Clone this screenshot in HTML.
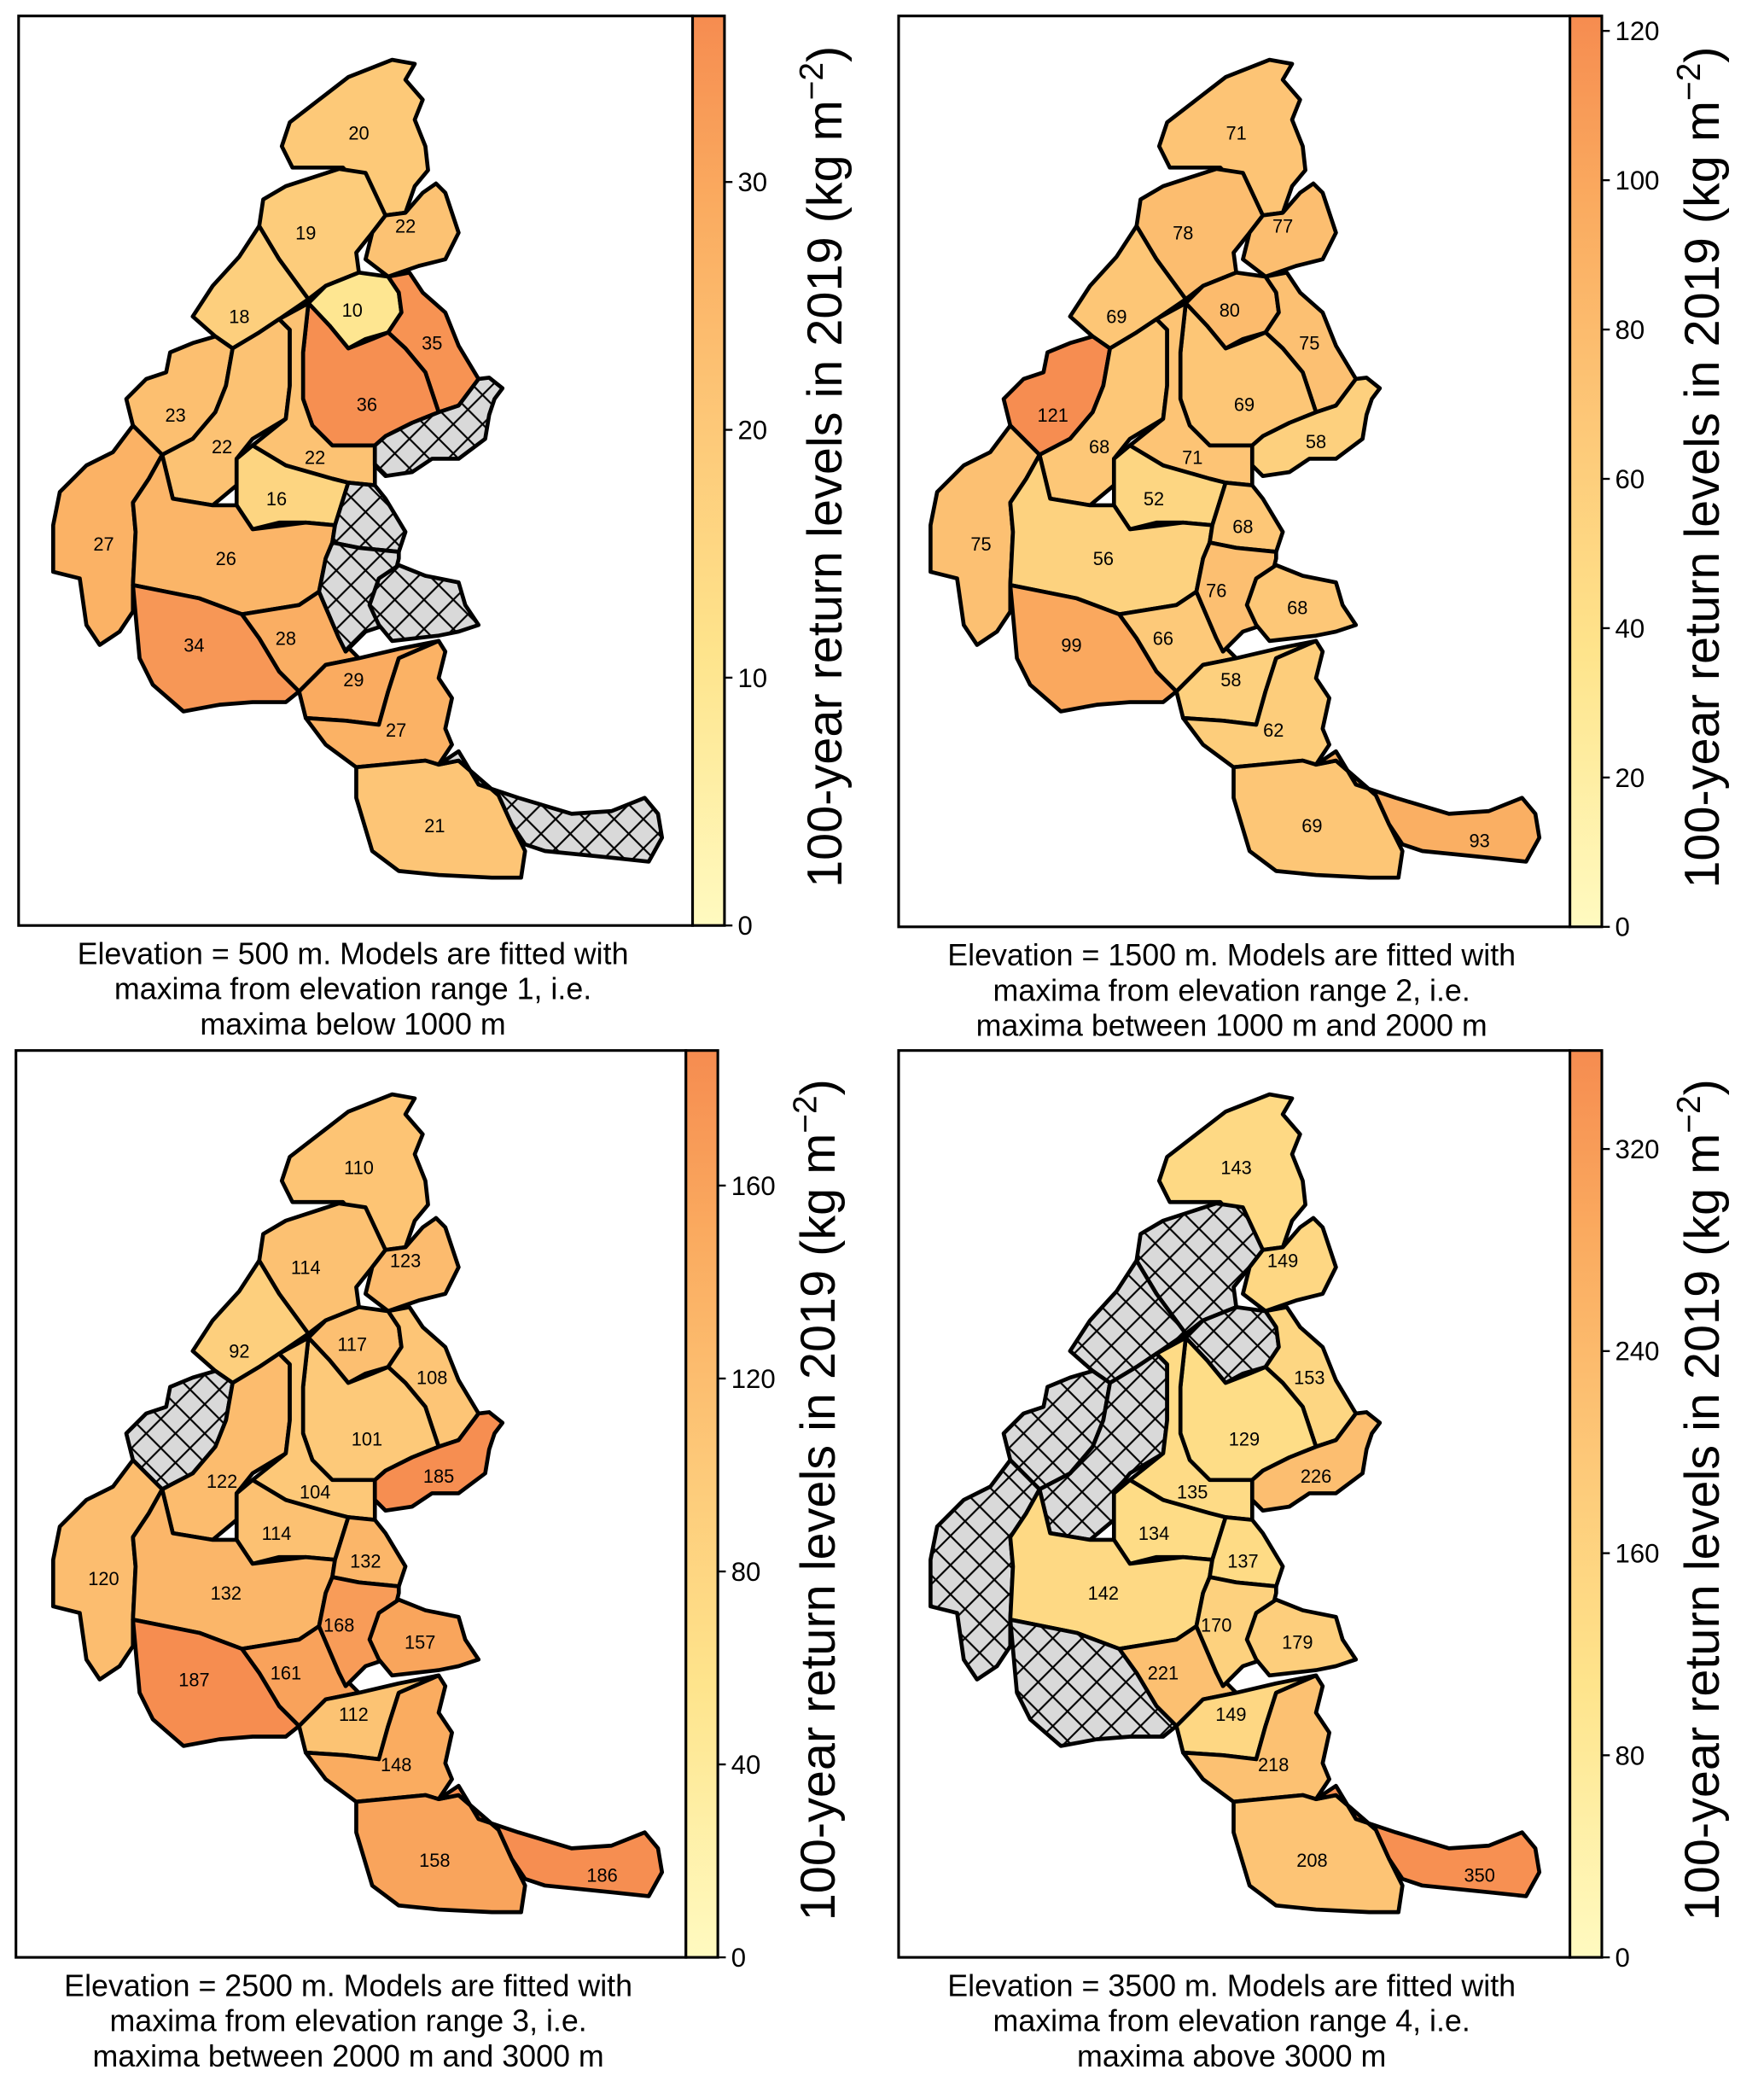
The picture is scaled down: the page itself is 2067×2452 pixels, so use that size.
<!DOCTYPE html>
<html><head><meta charset="utf-8">
<style>
html,body{margin:0;padding:0;background:#fff;}
svg{display:block;}
text{font-family:"Liberation Sans",sans-serif;}
</style></head>
<body>
<svg id="fig" xmlns="http://www.w3.org/2000/svg" width="2067" height="2452" viewBox="0 0 1327 1574" preserveAspectRatio="none">
<defs>
<pattern id="hatch" patternUnits="userSpaceOnUse" width="22" height="22">
<rect width="22" height="22" fill="#d9d9d9"/>
<path d="M0,0 L22,22 M22,0 L0,22" stroke="#000" stroke-width="1.4"/>
</pattern>
<linearGradient id="cbgrad" x1="0" y1="1" x2="0" y2="0">
<stop offset="0" stop-color="#fffac0"/>
<stop offset="0.3" stop-color="#fee48c"/>
<stop offset="0.55" stop-color="#fdc878"/>
<stop offset="0.8" stop-color="#faaa5f"/>
<stop offset="1" stop-color="#f68c50"/>
</linearGradient>
</defs>
</svg>
<script>
const regionIds = ["A","B","C","D","E","R36","F","G7","G8","G9","R10","R11","R12","R13","R14","R15","R16","R17","H1","H2t","H2b","H3","H4"];
const valsTL = [20,19,22,10,35,36,18,23,22,22,16,27,26,34,28,29,27,21,null,null,null,null,null];
const valsTR = [71,78,77,80,75,69,69,121,68,71,52,75,56,99,66,58,62,69,58,68,76,68,93];
const valsBL = [110,114,123,117,108,101,92,null,122,104,114,120,132,187,161,112,148,158,185,132,168,157,186];
const valsBR = [143,null,149,null,153,129,null,null,null,135,134,null,142,null,221,149,218,208,226,137,170,179,350];
const vmaxes = [36.7,122,188,359];
const ticksTL = [0,10,20,30];
const ticksTR = [0,20,40,60,80,100,120];
const ticksBL = [0,40,80,120,160];
const ticksBR = [0,80,160,240,320];
const captions = [
 ["Elevation = 500 m. Models are fitted with","maxima from elevation range 1, i.e.","maxima below 1000 m"],
 ["Elevation = 1500 m. Models are fitted with","maxima from elevation range 2, i.e.","maxima between 1000 m and 2000 m"],
 ["Elevation = 2500 m. Models are fitted with","maxima from elevation range 3, i.e.","maxima between 2000 m and 3000 m"],
 ["Elevation = 3500 m. Models are fitted with","maxima from elevation range 4, i.e.","maxima above 3000 m"]];

const geom = {
A:[[218,92],[240,75],[262,58],[295,45],[312,48],[305,60],[318,75],[312,90],[320,110],[322,128],[312,140],[305,160],[290,162],[270,140],[258,126],[220,126],[212,110]],
B:[[198,150],[215,140],[255,127],[275,130],[290,162],[280,175],[268,190],[270,205],[245,215],[232,225],[210,195],[195,170]],
C:[[290,162],[305,160],[318,145],[328,138],[335,145],[340,160],[345,175],[340,185],[335,195],[315,200],[292,208],[275,195],[280,175]],
D:[[245,215],[270,205],[292,208],[300,220],[302,235],[292,250],[275,255],[262,262],[248,245],[232,228]],
E:[[292,208],[308,205],[318,220],[335,235],[345,260],[360,285],[345,305],[330,310],[320,280],[305,262],[292,250],[302,235],[300,220]],
R36:[[232,228],[248,245],[262,262],[280,255],[292,250],[305,262],[320,280],[330,310],[310,318],[290,328],[282,335],[250,335],[235,320],[228,300],[228,265]],
F:[[145,238],[160,215],[180,193],[195,170],[210,195],[232,225],[210,240],[195,250],[175,262],[162,253]],
G7:[[128,265],[145,258],[162,253],[175,262],[170,290],[162,310],[145,330],[122,342],[100,320],[95,300],[110,285],[125,280]],
G8:[[175,262],[195,250],[210,240],[218,248],[218,290],[215,315],[190,330],[178,345],[178,365],[160,380],[130,375],[122,342],[145,330],[162,310],[170,290]],
G9:[[210,240],[232,228],[228,265],[228,300],[235,320],[250,335],[282,335],[282,365],[262,363],[250,360],[215,350],[190,335],[215,315],[218,290],[218,248]],
R10:[[178,345],[190,335],[215,350],[250,360],[262,363],[252,395],[230,393],[210,393],[190,398],[178,380]],
R11:[[40,395],[45,370],[65,350],[85,340],[100,320],[122,342],[112,360],[100,378],[102,400],[100,440],[100,460],[90,475],[75,485],[65,470],[60,435],[40,430]],
R12:[[112,360],[122,342],[130,375],[160,380],[178,380],[190,398],[230,393],[252,395],[250,408],[245,420],[240,445],[225,455],[182,462],[150,450],[100,440],[102,400],[100,378]],
R13:[[100,440],[150,450],[182,462],[195,480],[210,505],[225,520],[215,528],[190,528],[165,530],[138,535],[115,515],[105,495]],
R14:[[182,462],[225,455],[240,445],[255,480],[270,495],[245,500],[225,520],[210,505],[195,480]],
R15:[[225,520],[245,500],[270,495],[300,488],[330,482],[300,495],[292,520],[285,545],[260,542],[230,540]],
R16:[[230,540],[260,542],[285,545],[292,520],[300,495],[330,482],[335,490],[330,510],[340,525],[335,548],[340,560],[330,575],[320,572],[268,577],[245,560]],
R17:[[268,577],[320,572],[330,575],[345,572],[375,598],[385,620],[395,640],[392,660],[370,660],[330,658],[300,655],[280,640],[268,600]],
H1:[[282,335],[290,328],[310,318],[330,310],[345,305],[360,285],[368,284],[378,292],[372,300],[368,312],[365,330],[345,345],[325,345],[310,355],[290,358],[282,350]],
H2t:[[262,363],[282,365],[290,375],[305,400],[300,415],[270,412],[250,408],[252,395]],
H2b:[[250,408],[270,412],[300,415],[300,420],[295,440],[285,455],[290,470],[275,475],[260,490],[255,480],[240,445],[245,420]],
H3:[[278,455],[285,435],[300,425],[320,433],[345,438],[350,455],[360,470],[345,475],[330,478],[295,482],[285,470]],
H4:[[330,575],[345,565],[360,590],[390,600],[430,612],[460,610],[485,600],[495,612],[498,630],[488,648],[460,645],[410,640],[395,635],[385,620],[375,598],[345,572]]
};
const labelPos = {A:[270,100],B:[230,175],C:[305,170],D:[265,233],E:[325,258],R36:[276,304],F:[180,238],G7:[132,312],G8:[167,336],G9:[237,344],R10:[208,375],R11:[78,409],R12:[170,420],R13:[146,485],R14:[215,480],R15:[266,511],R16:[298,549],R17:[327,621],H1:[330,332],H2t:[275,396],H2b:[255,444],H3:[316,457],H4:[453,632]};

const panels = [
 {vals:valsTL,ticks:ticksTL,dx:0,dy:0,fx:14,fy:12,fw:507,fh:684,name:"panel-500m"},
 {vals:valsTR,ticks:ticksTR,dx:660,dy:0,fx:676,fy:12,fw:505,fh:685,name:"panel-1500m"},
 {vals:valsBL,ticks:ticksBL,dx:0,dy:778,fx:12,fy:790,fw:504,fh:682,name:"panel-2500m"},
 {vals:valsBR,ticks:ticksBR,dx:660,dy:778,fx:676,fy:790,fw:505,fh:682,name:"panel-3500m"}];

const stops=[[0,[255,250,192]],[0.3,[254,228,140]],[0.55,[253,200,120]],[0.8,[250,170,95]],[1,[246,140,80]]];
function cmap(t){t=Math.max(0,Math.min(1,t));for(let i=1;i<stops.length;i++){if(t<=stops[i][0]){const a=stops[i-1],b=stops[i];const f=(t-a[0])/(b[0]-a[0]);return 'rgb('+a[1].map((c,k)=>Math.round(c+(b[1][k]-c)*f)).join(',')+')';}}return 'rgb(246,140,80)';}
const NS="http://www.w3.org/2000/svg";
const svg=document.getElementById('fig');
function mk(tag,attrs,parent){const e=document.createElementNS(NS,tag);for(const k in attrs)e.setAttribute(k,attrs[k]);(parent||svg).appendChild(e);return e;}

panels.forEach((p,pi)=>{
 const g=mk('g',{});
 
 
 const vmax=vmaxes[pi];
 const frame=mk('rect',{x:p.fx,y:p.fy,width:p.fw,height:p.fh,fill:'#fff',stroke:'#000','stroke-width':2},g);
 
 
 regionIds.forEach((id,i)=>{
  const v=p.vals[i];
  const pts=geom[id].map(q=>(q[0]+p.dx)+','+(q[1]+p.dy)).join(' ');
  const poly=mk('polygon',{points:pts,fill:v==null?'url(#hatch)':cmap(v/vmax),stroke:'#000','stroke-width':3,'stroke-linejoin':'round'},g);
  
  
 });
 regionIds.forEach((id,i)=>{
  const v=p.vals[i]; if(v==null) return;
  const lp=labelPos[id];
  const t=mk('text',{x:lp[0]+p.dx,y:lp[1]+p.dy+5,'font-size':14,'text-anchor':'middle',fill:'#000'},g);
  t.textContent=v;
  
  
 });
 const cx=p.fx+p.fw, cw=24;
 const cb=mk('rect',{x:cx,y:p.fy,width:cw,height:p.fh,fill:'url(#cbgrad)',stroke:'#000','stroke-width':2},g);
 
 
 p.ticks.forEach(tv=>{
  const y=p.fy+p.fh-tv/vmax*p.fh;
  const tk=mk('line',{x1:cx+cw,x2:cx+cw+6,y1:y,y2:y,stroke:'#000','stroke-width':1.5},g);
  
  
  const tl=mk('text',{x:cx+cw+10,y:y+7,'font-size':20,fill:'#000'},g);
  tl.textContent=tv;
  
  
 });
 const lx=cx+cw+88, ly=p.fy+p.fh/2-3;
 const lab=mk('text',{x:lx,y:ly,'font-size':37,'text-anchor':'middle',transform:'rotate(-90 '+lx+' '+ly+')',fill:'#000'},g);
 lab.innerHTML='100-year return levels in 2019 (kg m<tspan dy="-14" font-size="25">\u22122</tspan><tspan dy="14">)</tspan>';
 
 
 const capx=p.fx+p.fw/2-2;
 captions[pi].forEach((line,li)=>{
  const c=mk('text',{x:capx,y:p.fy+p.fh+29+li*26.5,'font-size':23,'text-anchor':'middle',fill:'#000'},g);
  c.textContent=line;
  
  
 });
});
</script>
</body></html>
